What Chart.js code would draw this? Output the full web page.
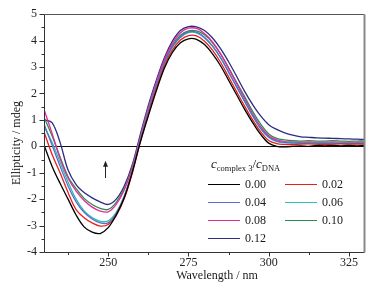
<!DOCTYPE html>
<html><head><meta charset="utf-8">
<script src="https://cdn.jsdelivr.net/npm/chart.js@4/dist/chart.umd.min.js"></script>
<style>
html,body{margin:0;padding:0;background:#fff;}
#wrap{position:relative;width:377px;height:289px;font-family:'Liberation Serif','Times New Roman',serif;color:#1a1a1a;overflow:hidden;}
#c{position:absolute;left:0;top:0;}
.lt{position:absolute;font-size:12px;line-height:12px;white-space:nowrap;}
.sw{position:absolute;height:0;border-top:1.6px solid;}
.ttl{position:absolute;font-size:12px;line-height:14px;white-space:nowrap;transform:translate(-50%,-50%);}
sub{font-size:8.5px;vertical-align:-3px;line-height:0;}
</style></head><body>
<div id="wrap">
<canvas id="c" width="377" height="289"></canvas>
<div id="legend"></div>
<div class="ttl" style="left:217px;top:275px;">Wavelength / nm</div>
<div class="ttl" style="left:16px;top:143px;transform:translate(-50%,-50%) rotate(-90deg);">Ellipticity / mdeg</div>
</div>
<script>
// ---- data ----
const wavelengths = [230,232.5,235,237.5,240,242.5,245,247.5,250,252.5,255,257.5,260,262.5,265,267.5,270,272.5,275,277.5,280,282.5,285,287.5,290,292.5,295,297.5,300,302.5,305,307.5,310,312.5,315,317.5,320,322.5,325,327.5,330];
const ratioLabels = ['0.00','0.02','0.04','0.06','0.08','0.10','0.12'];
const s000 = [0.05,-0.75,-1.4,-2.0,-2.6,-3.05,-3.25,-3.3,-3.08,-2.6,-1.95,-0.98,0.15,1.15,2.1,2.95,3.55,3.92,4.07,4.05,3.85,3.5,3.05,2.5,1.95,1.4,0.9,0.45,0.12,0.0,-0.02,0.0,0.02,0.0,0.03,0.02,0.03,0.02,0.03,0.02,0.03];
const s002 = [0.55,-0.3,-1.0,-1.75,-2.4,-2.7,-2.9,-3.02,-2.96,-2.62,-1.98,-1.02,0.18,1.22,2.18,3.03,3.64,4.02,4.19,4.18,3.98,3.64,3.18,2.63,2.07,1.52,1.0,0.55,0.22,0.1,0.07,0.06,0.08,0.09,0.08,0.07,0.08,0.09,0.08,0.08,0.08];
const s004 = [0.85,0.05,-0.75,-1.5,-2.1,-2.5,-2.75,-2.9,-2.9,-2.55,-1.9,-0.95,0.25,1.33,2.3,3.14,3.77,4.15,4.33,4.32,4.13,3.8,3.36,2.82,2.26,1.7,1.16,0.68,0.35,0.2,0.15,0.12,0.12,0.13,0.12,0.11,0.12,0.11,0.1,0.11,0.1];
const s006 = [0.75,0.15,-0.6,-1.35,-2.0,-2.45,-2.7,-2.84,-2.82,-2.5,-1.88,-0.92,0.26,1.35,2.3,3.12,3.75,4.12,4.3,4.29,4.1,3.78,3.35,2.8,2.25,1.7,1.15,0.66,0.33,0.18,0.14,0.13,0.12,0.13,0.13,0.12,0.12,0.13,0.12,0.12,0.12];
const s008 = [1.4,0.5,-0.45,-1.2,-1.7,-2.05,-2.3,-2.45,-2.48,-2.2,-1.65,-0.8,0.35,1.45,2.42,3.28,3.9,4.3,4.47,4.46,4.27,3.95,3.5,2.95,2.38,1.8,1.23,0.74,0.4,0.24,0.18,0.16,0.15,0.16,0.15,0.15,0.16,0.15,0.15,0.15,0.15];
const s010 = [1.1,0.4,-0.4,-1.15,-1.6,-1.97,-2.2,-2.35,-2.39,-2.12,-1.6,-0.78,0.33,1.42,2.38,3.2,3.82,4.2,4.37,4.37,4.22,3.92,3.5,2.98,2.42,1.88,1.32,0.84,0.47,0.3,0.24,0.21,0.2,0.21,0.2,0.2,0.21,0.2,0.19,0.2,0.2];
const s012 = [1.0,0.9,0.15,-0.9,-1.45,-1.75,-1.95,-2.1,-2.2,-2.0,-1.5,-0.7,0.45,1.55,2.5,3.35,3.98,4.38,4.53,4.52,4.38,4.1,3.7,3.2,2.65,2.08,1.58,1.15,0.82,0.64,0.51,0.42,0.36,0.34,0.32,0.31,0.3,0.29,0.28,0.27,0.26];
const xTickValues = [250,275,300,325];
const xTickLabels = ['250','275','300','325'];
const yTickValues = [-4,-3,-2,-1,0,1,2,3,4,5];
const yTickLabels = ['-4','-3','-2','-1','0','1','2','3','4','5'];

// ---- styling ----
const seriesValues = [s000,s002,s004,s006,s008,s010,s012];
const colors = ['#000000','#e8201c','#5b6cc8','#2bbfb0','#e6289a','#2e8b50','#2c2c82'];
const FONT = "'Liberation Serif','Times New Roman',serif";

const overlay = {
  id:'overlay',
  beforeDatasetsDraw(chart){
    const {ctx, chartArea:a, scales:{x,y}} = chart;
    ctx.save();
    ctx.strokeStyle = '#111'; ctx.lineWidth = 1;
    const y0 = Math.round(y.getPixelForValue(0)) + 0.5;
    ctx.beginPath(); ctx.moveTo(a.left, y0); ctx.lineTo(a.right, y0); ctx.stroke();
    ctx.restore();
  },
  afterDraw(chart){
    const {ctx, chartArea:a, scales:{x,y}} = chart;
    ctx.save();
    const L = Math.round(a.left)+0.5, R = Math.round(a.right)-0.5, T = Math.round(a.top)+0.5, B = Math.round(a.bottom)+0.5;
    ctx.lineWidth = 1; ctx.strokeStyle = '#333';
    ctx.beginPath(); ctx.moveTo(L, T); ctx.lineTo(L, B); ctx.lineTo(R, B); ctx.stroke();
    ctx.strokeStyle = '#555';
    ctx.beginPath(); ctx.moveTo(L, T); ctx.lineTo(R, T); ctx.stroke();
    ctx.strokeStyle = '#888'; ctx.lineWidth = 2;
    ctx.beginPath(); ctx.moveTo(R, T); ctx.lineTo(R, B); ctx.stroke();
    ctx.lineWidth = 1; ctx.strokeStyle = '#333';
    ctx.beginPath();
    for (let v = -4; v <= 5.001; v += 0.5) {
      const p = Math.round(y.getPixelForValue(v)) + 0.5;
      const len = Math.abs(v - Math.round(v)) < 1e-6 ? 5 : 3;
      ctx.moveTo(L - len, p); ctx.lineTo(L, p);
    }
    for (let v = 237.5; v <= 330; v += 12.5) {
      const p = Math.round(x.getPixelForValue(v)) + 0.5;
      const len = (v % 25 === 0) ? 4 : 2.5;
      ctx.moveTo(p, B); ctx.lineTo(p, B + len);
    }
    ctx.stroke();
    const ax = Math.round(x.getPixelForValue(249)) + 0.5;
    const ayTop = y.getPixelForValue(-0.55), ayBot = y.getPixelForValue(-1.2);
    ctx.strokeStyle = '#222'; ctx.fillStyle = '#222'; ctx.lineWidth = 1;
    ctx.beginPath(); ctx.moveTo(ax, ayBot); ctx.lineTo(ax, ayTop + 4); ctx.stroke();
    ctx.beginPath(); ctx.moveTo(ax, ayTop); ctx.lineTo(ax - 2.5, ayTop + 6); ctx.lineTo(ax + 2.5, ayTop + 6); ctx.closePath(); ctx.fill();
    ctx.restore();
  }
};

new Chart(document.getElementById('c'), {
  type: 'line',
  data: {
    datasets: seriesValues.map((vals, i) => ({
      label: ratioLabels[i],
      data: wavelengths.map((w, j) => ({x: w, y: vals[j]})),
      borderColor: colors[i],
      borderWidth: 1.3,
      pointRadius: 0,
      tension: 0.35,
      fill: false
    }))
  },
  options: {
    responsive: false,
    animation: false,
    events: [],
    layout: {padding: {left: 0, top: 12, right: 12, bottom: 0}},
    plugins: {legend: {display: false}, tooltip: {enabled: false}},
    scales: {
      x: {
        type: 'linear', min: 230, max: 330,
        afterBuildTicks: s => { s.ticks = xTickValues.map(v => ({value: v})); },
        afterFit: s => { s.height = 37; },
        grid: {display: false, drawTicks: false},
        border: {display: false},
        ticks: {font: {family: FONT, size: 12}, color: '#222', padding: 4,
          callback: (v) => xTickLabels[xTickValues.indexOf(v)] ?? ''}
      },
      y: {
        type: 'linear', min: -4, max: 5,
        afterBuildTicks: s => { s.ticks = yTickValues.map(v => ({value: v})); },
        afterFit: s => { s.width = 44; },
        grid: {display: false, drawTicks: false},
        border: {display: false},
        ticks: {font: {family: FONT, size: 12}, color: '#222', padding: 7,
          callback: (v) => yTickLabels[yTickValues.indexOf(v)] ?? ''}
      }
    }
  },
  plugins: [overlay]
});

// ---- legend (HTML) ----
const lg = document.getElementById('legend');
const title = document.createElement('div');
title.className = 'lt';
title.style.cssText = 'left:211px;top:157px;font-size:13px;line-height:14px;';
title.innerHTML = '<i>c</i><sub>complex 3</sub>/<i>c</i><sub>DNA</sub>';
lg.appendChild(title);
const colX = [208, 285], rowY = [184, 202, 220, 238];
ratioLabels.forEach((lab, i) => {
  const cx = colX[i % 2], ry = rowY[Math.floor(i / 2)];
  const sw = document.createElement('div');
  sw.className = 'sw';
  sw.style.cssText = `left:${cx}px;top:${ry}px;width:32px;border-top-color:${colors[i]};`;
  lg.appendChild(sw);
  const t = document.createElement('div');
  t.className = 'lt';
  t.style.cssText = `left:${cx + 37}px;top:${ry - 6}px;`;
  t.textContent = lab;
  lg.appendChild(t);
});
</script>
</body></html>
